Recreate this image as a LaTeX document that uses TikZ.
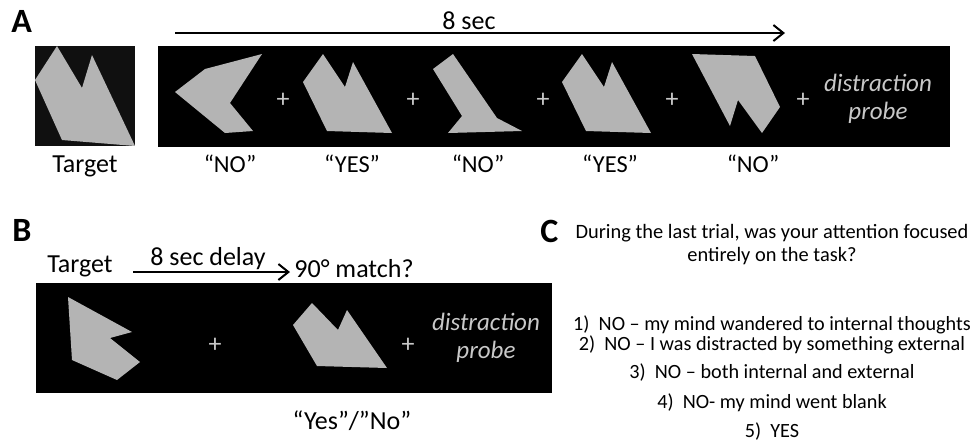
\documentclass[tikz,border=0pt]{standalone}
\usepackage{fontspec}
\setmainfont{Carlito}
\usetikzlibrary{arrows.meta}
\definecolor{shapegray}{HTML}{B4B4B4}
\definecolor{probegray}{HTML}{C8C8C8}
\definecolor{targetbg}{HTML}{101010}

\begin{document}
\begin{tikzpicture}[x=0.5pt,y=-0.5pt,
  lbl/.style={inner sep=0pt, anchor=base, font=\fontsize{13}{15}\selectfont},
  resp/.style={inner sep=0pt, anchor=base, font=\fontsize{12.2}{14}\selectfont},
  qtext/.style={inner sep=0pt, anchor=base, font=\fontsize{10.2}{11.5}\selectfont},
  otext/.style={inner sep=0pt, anchor=base, font=\fontsize{10.1}{11.5}\selectfont},
  panel/.style={inner sep=0pt, anchor=base west, font=\bfseries\fontsize{17}{19}\selectfont},
  fig/.style={fill=shapegray, draw=none},
  fix/.style={text=probegray, inner sep=0pt, font=\fontsize{13}{15}\selectfont},
  probe/.style={text=probegray, align=center, inner sep=0pt, font=\itshape\fontsize{12.5}{14}\selectfont},
  timeline/.style={line width=1.4pt, -{Straight Barb[length=5pt,width=8pt,line width=1pt]}},
]
\useasboundingbox (0,0) rectangle (976,441);

% ---------- A: shape sequence ----------
\node[panel] (labA) at (11,32) {A};

% target
\fill[targetbg] (35,46) rectangle (135,146);
\fill[fig] (57,46) -- (82,88) -- (92,55) -- (135,146) -- (62,140) -- (35,80) -- cycle;
\node[lbl] (tgtA) at (85,172) {Target};

% timeline
\coordinate (tA0) at (175,33);
\coordinate (tA1) at (785,33);
\draw[timeline] (tA0) -- (tA1);
\node[lbl] (secA) at (469,29) {8 sec};

% stimulus strip
\fill[black] (158,46) rectangle (950,147);
\fill[fig] (262,54) -- (205,69) -- (175,92) -- (225,133) -- (253,131) -- (230,103) -- cycle;
\fill[fig] (323,54) -- (345,87) -- (353,62) -- (392,133) -- (327,131) -- (303,82) -- cycle;
\fill[fig] (433,69) -- (453,54) -- (497,118) -- (522,131) -- (448,133) -- (462,116) -- cycle;
\fill[fig] (582,54) -- (604,87) -- (612,62) -- (651,133) -- (586,131) -- (562,82) -- cycle;
\fill[fig] (692,54) -- (755,56) -- (780,107) -- (762,133) -- (738,100) -- (730,126) -- cycle;

\node[fix] (pA1) at (283,100) {+};
\node[fix] (pA2) at (413,100) {+};
\node[fix] (pA3) at (543,100) {+};
\node[fix] (pA4) at (672,100) {+};
\node[fix] (pA5) at (803,100) {+};
\node[probe] (probeA) at (878,99) {distraction\\probe};

\node[resp] (rA1) at (230,172) {“NO”};
\node[resp] (rA2) at (352,172) {“YES”};
\node[resp] (rA3) at (478,172) {“NO”};
\node[resp] (rA4) at (610,172) {“YES”};
\node[resp] (rA5) at (753,172) {“NO”};

% ---------- B: delayed match ----------
\node[panel] (labB) at (12,241) {B};
\node[lbl] (tgtB) at (80,272) {Target};
\coordinate (tB0) at (133,272);
\coordinate (tB1) at (290,272);
\draw[timeline] (tB0) -- (tB1);
\node[lbl] (delayB) at (208,265) {8 sec delay};
\node[lbl] (matchB) at (354,277) {90° match?};

\fill[black] (36,283) rectangle (552,393);
\fill[fig] (68,297) -- (132,332) -- (110,338) -- (140,362) -- (117,380) -- (72,360) -- cycle;
\fill[fig] (312,303) -- (338,330) -- (347,310) -- (387,368) -- (317,366) -- (293,325) -- cycle;
\node[fix] (pB1) at (215,345) {+};
\node[fix] (pB2) at (408,345) {+};
\node[probe] (probeB) at (486,338) {distraction\\probe};
\node[lbl] (rB) at (352,429) {“Yes”/”No”};

% ---------- C: thought probe ----------
\node[panel] (labC) at (540,242) {C};
\node[qtext] (q1) at (772,238) {During the last trial, was your attention focused};
\node[qtext] (q2) at (772,261) {entirely on the task?};
\node[otext] (o1) at (772,330) {1)~~NO – my mind wandered to internal thoughts};
\node[otext] (o2) at (772,350) {2)~~NO – I was distracted by something external};
\node[otext] (o3) at (772,378) {3)~~NO – both internal and external};
\node[otext] (o4) at (772,408) {4)~~NO- my mind went blank};
\node[otext] (o5) at (772,437) {5)~~YES};
\end{tikzpicture}
\end{document}
